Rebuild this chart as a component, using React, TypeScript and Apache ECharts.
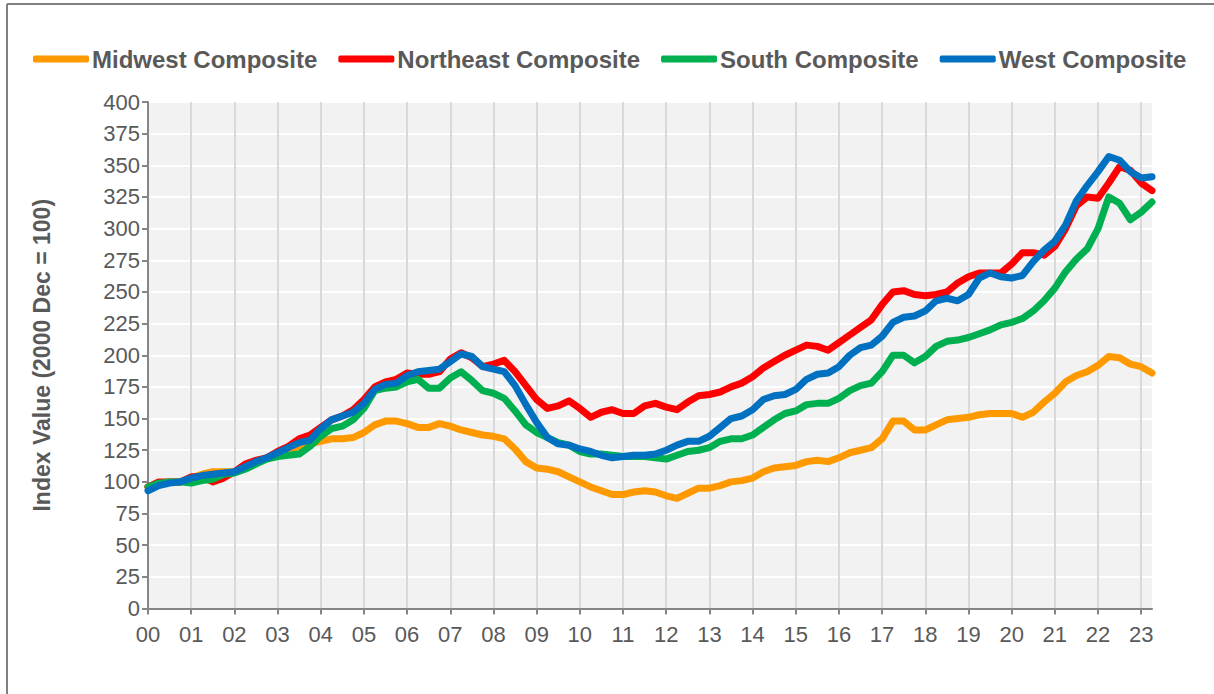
import React, { useEffect, useRef } from "react";
import * as echarts from "echarts";

const years = ["00","01","02","03","04","05","06","07","08","09","10","11","12","13","14","15","16","17","18","19","20","21","22","23"];
const quarters = ["Q1", "Q2", "Q3", "Q4"];
const seriesNames = ["Midwest Composite", "Northeast Composite", "South Composite", "West Composite"];
const seriesColors = ["#FF9900", "#FF0000", "#00B050", "#0070C0"];
const yTicks = [0, 25, 50, 75, 100, 125, 150, 175, 200, 225, 250, 275, 300, 325, 350, 375, 400];

const midwest = [
  96, 98, 100, 100, 103, 106, 108, 108, 108, 113, 117, 119, 122, 125, 128, 130,
  132, 134, 134, 135, 139, 145, 148, 148, 146, 143, 143, 146, 144, 141, 139, 137,
  136, 134, 126, 116, 111, 110, 108, 104, 100, 96, 93, 90, 90, 92, 93, 92,
  89, 87, 91, 95, 95, 97, 100, 101, 103, 108, 111, 112, 113, 116, 117, 116,
  119, 123, 125, 127, 134, 148, 148, 141, 141, 145, 149, 150, 151, 153, 154, 154,
  154, 151, 155, 163, 170, 179, 184, 187, 192, 199, 198, 193, 191, 186
];
const northeast = [
  96, 100, 100, 100, 104, 104, 100, 103, 108, 114, 117, 119, 124, 128, 134, 137,
  143, 149, 152, 157, 165, 175, 179, 181, 186, 185, 185, 187, 197, 202, 198, 191,
  193, 196, 187, 176, 165, 158, 160, 164, 158, 151, 155, 157, 154, 154, 160, 162,
  159, 157, 163, 168, 169, 171, 175, 178, 183, 190, 195, 200, 204, 208, 207, 204,
  210, 216, 222, 228, 240, 250, 251, 248, 247, 248, 250, 257, 262, 265, 265, 265,
  272, 281, 281, 279, 286, 300, 318, 325, 324, 336, 349, 346, 336, 330
];
const south = [
  96, 99, 100, 100, 99, 101, 102, 106, 107, 110, 114, 118, 120, 121, 122, 128,
  136, 142, 144, 149, 158, 172, 174, 175, 179, 181, 174, 174, 182, 187, 180, 172,
  170, 166, 156, 145, 139, 135, 131, 129, 124, 122, 122, 121, 120, 120, 120, 119,
  118, 121, 124, 125, 127, 132, 134, 134, 137, 143, 149, 154, 156, 161, 162, 162,
  166, 172, 176, 178, 187, 200, 200, 194, 199, 207, 211, 212, 214, 217, 220, 224,
  226, 229, 235, 243, 253, 266, 276, 284, 300, 325, 320, 307, 313, 321
];
const west = [
  93, 97, 99, 100, 103, 105, 106, 107, 108, 112, 116, 119, 123, 127, 131, 133,
  142, 149, 152, 155, 162, 173, 177, 178, 184, 187, 188, 189, 195, 201, 199, 191,
  189, 187, 176, 161, 147, 135, 130, 129, 126, 124, 121, 119, 120, 121, 121, 122,
  125, 129, 132, 132, 136, 143, 150, 152, 157, 165, 168, 169, 173, 181, 185, 186,
  191, 200, 206, 208, 215, 226, 230, 231, 235, 243, 245, 243, 248, 261, 265, 262,
  261, 263, 274, 283, 290, 303, 322, 334, 345, 357, 354, 345, 340, 341
];

const categories: string[] = [];
years.forEach((y) => quarters.forEach((q) => categories.push(y + " " + q)));
const nPoints = midwest.length;
const cats = categories.slice(0, nPoints);

const FONT = "'Liberation Sans', Arial, sans-serif";
const TXT = "#595959";

export default function App() {
  const ref = useRef<HTMLDivElement>(null);
  useEffect(() => {
    if (!ref.current) return;
    const chart = echarts.init(ref.current, null, { renderer: "svg" });
    const datasets = [midwest, northeast, south, west];
    chart.setOption({
      animation: false,
      backgroundColor: "#FFFFFF",
      textStyle: { fontFamily: FONT },
      graphic: [
        { type: "line", shape: { x1: 7, y1: 4, x2: 1214, y2: 4 }, style: { stroke: "#808080", lineWidth: 2 } },
        { type: "line", shape: { x1: 7, y1: 4, x2: 7, y2: 694 }, style: { stroke: "#808080", lineWidth: 2 } },
      ],
      legend: {
        left: 28,
        top: 42,
        itemWidth: 56,
        itemHeight: 7,
        itemGap: 21,
        icon: "roundRect",
        data: seriesNames,
        textStyle: { fontFamily: FONT, fontSize: 24, fontWeight: "bold", color: TXT, padding: [0, 0, 0, -2] },
      },
      grid: {
        left: 148,
        right: 62,
        top: 102,
        bottom: 85.5,
        show: true,
        backgroundColor: "#F2F2F2",
        borderWidth: 0,
      },
      xAxis: {
        type: "category",
        data: cats,
        boundaryGap: false,
        axisLine: { lineStyle: { color: "#868686", width: 2 } },
        axisTick: { show: true, interval: 3, length: 6, lineStyle: { color: "#868686", width: 2 } },
        axisLabel: {
          interval: 3,
          formatter: (v: string) => v.split(" ")[0],
          fontSize: 22,
          color: TXT,
          fontFamily: FONT,
          margin: 15,
        },
        splitLine: { show: true, interval: 3, lineStyle: { color: "#D9D9D9", width: 2 } },
      },
      yAxis: {
        type: "value",
        min: yTicks[0],
        max: yTicks[yTicks.length - 1],
        interval: 25,
        name: "Index Value (2000 Dec = 100)",
        nameLocation: "middle",
        nameGap: 95,
        nameTextStyle: { fontSize: 23, fontWeight: "bold", color: TXT, fontFamily: FONT },
        axisLine: { show: true, lineStyle: { color: "#868686", width: 2 } },
        axisTick: { show: true, length: 6, lineStyle: { color: "#868686", width: 2 } },
        axisLabel: { fontSize: 22, color: TXT, fontFamily: FONT, margin: 8 },
        splitLine: { show: true, lineStyle: { color: "#FFFFFF", width: 2 } },
      },
      series: datasets.map((d, i) => ({
        name: seriesNames[i],
        type: "line",
        data: d,
        symbol: "none",
        showSymbol: false,
        color: seriesColors[i],
        lineStyle: { width: 7, color: seriesColors[i], cap: "round", join: "round" },
        z: 2 + i,
      })),
    });
    return () => chart.dispose();
  }, []);
  return (
    <div
      ref={ref}
      style={{ position: "absolute", left: 0, top: 0, width: 1214, height: 694 }}
    />
  );
}
